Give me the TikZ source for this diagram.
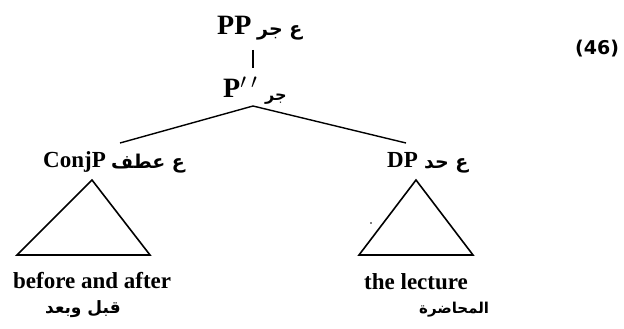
\documentclass[tikz,border=0pt]{standalone}
\usepackage{fontspec}
\setmainfont{Liberation Serif}
\newfontfamily\arabicfont[Script=Arabic]{DejaVu Sans}
\newfontfamily\numfont{DejaVu Sans}
\TeXXeTstate=1
\begin{document}
\begin{tikzpicture}[x=1pt,y=-1pt,
  big/.style={font=\fontsize{28}{28}\selectfont\bfseries, inner sep=0pt, anchor=base west},
  lat/.style={font=\fontsize{23}{23}\selectfont\bfseries, inner sep=0pt, anchor=base west},
  arl/.style={font=\arabicfont\bfseries\fontsize{19}{19}\selectfont, inner sep=0pt, anchor=base west},
  ars/.style={font=\arabicfont\bfseries\fontsize{16}{16}\selectfont, inner sep=0pt, anchor=base west},
  num/.style={font=\numfont\bfseries\fontsize{19}{19}\selectfont, inner sep=0pt, anchor=base west},
  edge/.style={line width=1.4pt},
  tri/.style={line width=1.6pt, line join=miter}]
\useasboundingbox (0,0) rectangle (624,329);
% top
\node[big] (pp) at (217,35) {PP};
\node[arl] (ppar) at (257,36) {\beginR ع جر\endR};
\node[big] (pbar) at (223,98) {P$^{\prime}$\,$^{\prime}$};
\node[ars] (pbarar) at (265,100) {\beginR جر\endR};
\coordinate (ppbot) at (253,50);
\coordinate (pbartop) at (253,68);
\draw[edge] (ppbot) -- (pbartop);
\coordinate (pbarbot) at (253,106);
\coordinate (conjtop) at (120,143);
\coordinate (dptop) at (406,143);
\draw[edge] (conjtop) -- (pbarbot) -- (dptop);
% daughters
\node[lat] (conjp) at (43,167) {ConjP};
\node[arl] (conjpar) at (111,168) {\beginR ع عطف\endR};
\node[lat] (dp) at (387,167) {DP};
\node[arl] (dpar) at (424,168) {\beginR ع حد\endR};
% triangles
\coordinate (ta) at (92,180);
\coordinate (tb) at (150,255);
\coordinate (tc) at (17,255);
\draw[tri] (ta) -- (tb) -- (tc) -- cycle;
\coordinate (ua) at (416,180);
\coordinate (ub) at (473,255);
\coordinate (uc) at (359,255);
\draw[tri] (ua) -- (ub) -- (uc) -- cycle;
\coordinate (speck) at (371,223);
\fill (speck) circle (0.9);
% leaves
\node[lat] (leafa) at (13,288) {before and after};
\node[ars, font=\arabicfont\bfseries\fontsize{17}{17}\selectfont] (leafaar) at (45,313) {\beginR قبل وبعد\endR};
\node[ars, font=\arabicfont\bfseries\fontsize{15}{15}\selectfont] (leafbar) at (419,313) {\beginR المحاضرة\endR};
\node[lat] (leafb) at (364,289) {the lecture};
% example number
\node[num] (exno) at (575,55) {(46)};
\end{tikzpicture}
\end{document}
